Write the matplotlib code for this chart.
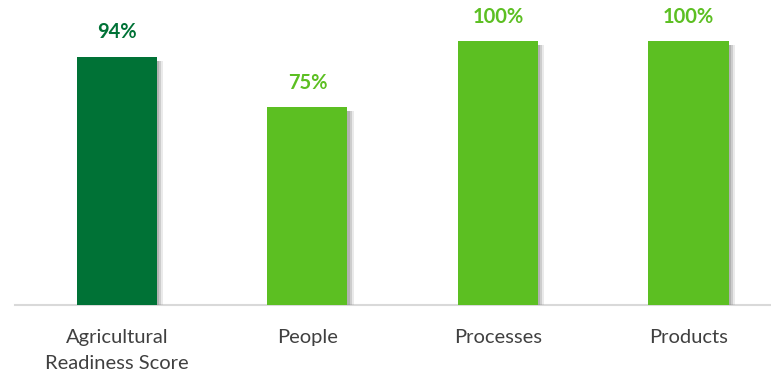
import matplotlib
matplotlib.use("Agg")
import matplotlib.pyplot as plt
from matplotlib import patheffects as pe

categories = ["Agricultural\nReadiness Score", "People", "Processes", "Products"]
values = [94, 75, 100, 100]
labels = ["94%", "75%", "100%", "100%"]
colors = ["#007236", "#5cbf22", "#5cbf22", "#5cbf22"]

plt.rcParams['font.family'] = ['Lato', 'DejaVu Sans']

W, H = 771, 374
fig = plt.figure(figsize=(W / 100, H / 100), dpi=100)
ax_left = 15 / W
ax_bottom = (H - 305) / H
ax = fig.add_axes([ax_left, ax_bottom, 1 - ax_left, 305 / H])

x = list(range(len(categories)))
bars = ax.bar(x, values, width=0.42, color=colors, zorder=3)
for b in bars:
    b.set_path_effects([pe.SimplePatchShadow(offset=(4.5, -3), shadow_rgbFace=(0.6, 0.6, 0.6), alpha=0.2),
                        pe.SimplePatchShadow(offset=(3, -3), shadow_rgbFace=(0.55, 0.55, 0.55), alpha=0.3),
                        pe.SimplePatchShadow(offset=(1.5, -3), shadow_rgbFace=(0.5, 0.5, 0.5), alpha=0.35),
                        pe.Normal()])

for xi, v, lab, c in zip(x, values, labels, colors):
    ax.annotate(lab, (xi, v), xytext=(0, 17.5), textcoords="offset points",
                ha="center", va="center", fontsize=14.5, fontweight="bold", color=c)

ax.set_xlim(-0.535, 3.433)
ax.set_ylim(0, 115.5)
ax.set_yticks([])
ax.set_xticks(x)
ax.set_xticklabels(categories, fontsize=14.5, color="#404040", linespacing=1.65)
ax.tick_params(axis="x", length=0, pad=17)
for s in ["top", "right", "left"]:
    ax.spines[s].set_visible(False)
ax.spines["bottom"].set_color("#d9d9d9")
ax.spines["bottom"].set_linewidth(1.5)

fig.savefig("out.png", dpi=100)
